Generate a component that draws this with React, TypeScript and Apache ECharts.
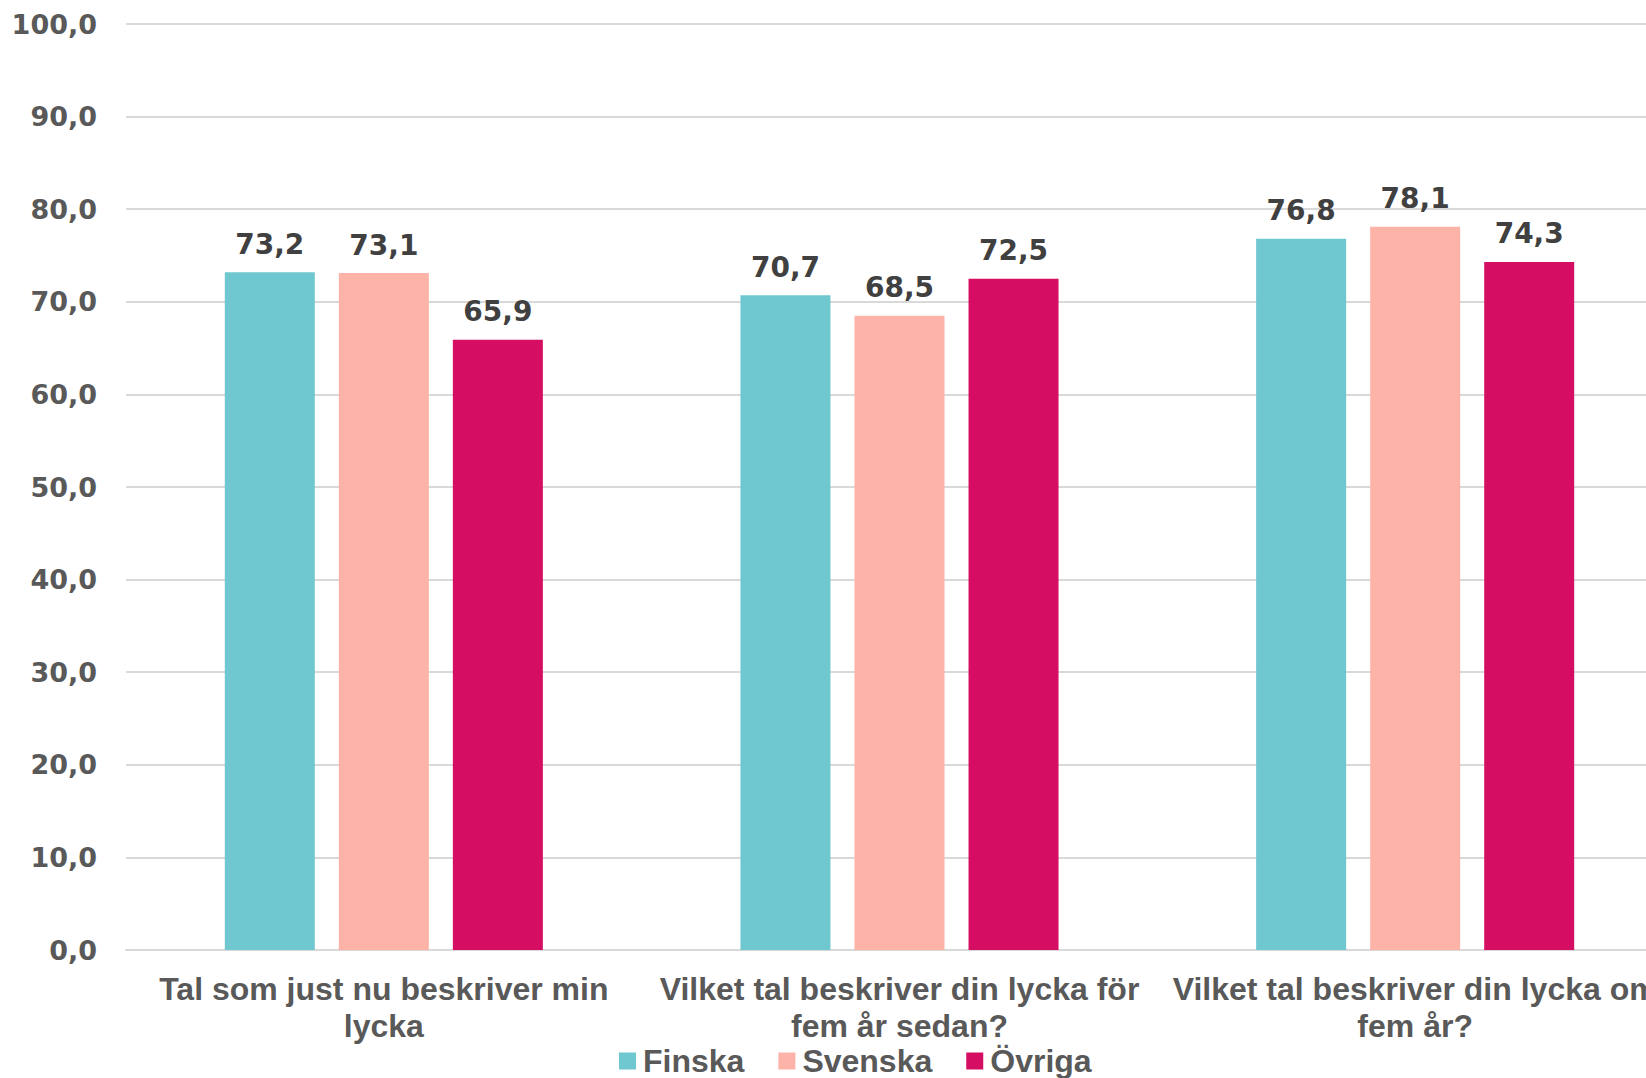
import React, { useEffect, useRef } from "react";
import * as echarts from "echarts";

const categories = [
  "Tal som just nu beskriver min\nlycka",
  "Vilket tal beskriver din lycka för\nfem år sedan?",
  "Vilket tal beskriver din lycka om\nfem år?",
];
const seriesNames = ["Finska", "Svenska", "Övriga"];
const finska = [73.2, 70.7, 76.8];
const svenska = [73.1, 68.5, 78.1];
const ovriga = [65.9, 72.5, 74.3];
const colors = ["#6fc8d0", "#feb3a8", "#d60e63"];

const fmt = (v: number) => v.toFixed(1).replace(".", ",");
const catFont = "Liberation Sans, Arial, sans-serif";

export default function App() {
  const ref = useRef<HTMLDivElement>(null);
  useEffect(() => {
    if (!ref.current) return;
    const chart = echarts.init(ref.current, undefined, { renderer: "svg" });
    const values = [finska, svenska, ovriga];
    chart.setOption({
      animation: false,
      backgroundColor: "#ffffff",
      grid: { left: 126, top: 24, bottom: 128, width: 1547, containLabel: false },
      legend: {
        data: seriesNames,
        left: 614,
        bottom: -4,
        icon: "rect",
        itemWidth: 17,
        itemHeight: 17,
        itemGap: 34,
        textStyle: {
          fontFamily: catFont,
          fontWeight: "bold",
          fontSize: 32,
          color: "#595959",
          padding: [0, 0, 0, 2],
        },
      },
      xAxis: {
        type: "category",
        data: categories,
        axisTick: { show: false },
        axisLine: { lineStyle: { color: "#d9d9d9", width: 2 } },
        axisLabel: {
          interval: 0,
          margin: 20,
          lineHeight: 37,
          fontFamily: catFont,
          fontWeight: "bold",
          fontSize: 32,
          color: "#595959",
        },
      },
      yAxis: {
        type: "value",
        min: 0,
        max: 100,
        interval: 10,
        axisLine: { show: false },
        axisTick: { show: false },
        splitLine: { lineStyle: { color: "#d9d9d9", width: 2 } },
        axisLabel: {
          margin: 29,
          fontFamily: "DejaVu Sans",
          fontWeight: "bold",
          fontSize: 27,
          color: "#595959",
          formatter: (v: number) => fmt(v),
        },
      },
      series: seriesNames.map((name, i) => ({
        name,
        type: "bar",
        data: values[i],
        barWidth: 90,
        barGap: "26.7%",
        itemStyle: { color: colors[i] },
        label: {
          show: true,
          position: "top",
          distance: 14,
          fontFamily: "DejaVu Sans",
          fontWeight: "bold",
          fontSize: 28,
          color: "#404040",
          formatter: (p: any) => fmt(p.value),
        },
      })),
    });
    return () => chart.dispose();
  }, []);
  return (
    <div
      style={{
        position: "fixed",
        left: 0,
        top: 0,
        width: 1646,
        height: 1078,
        overflow: "hidden",
        background: "#fff",
      }}
    >
      <div ref={ref} style={{ width: 1700, height: 1078 }} />
    </div>
  );
}
